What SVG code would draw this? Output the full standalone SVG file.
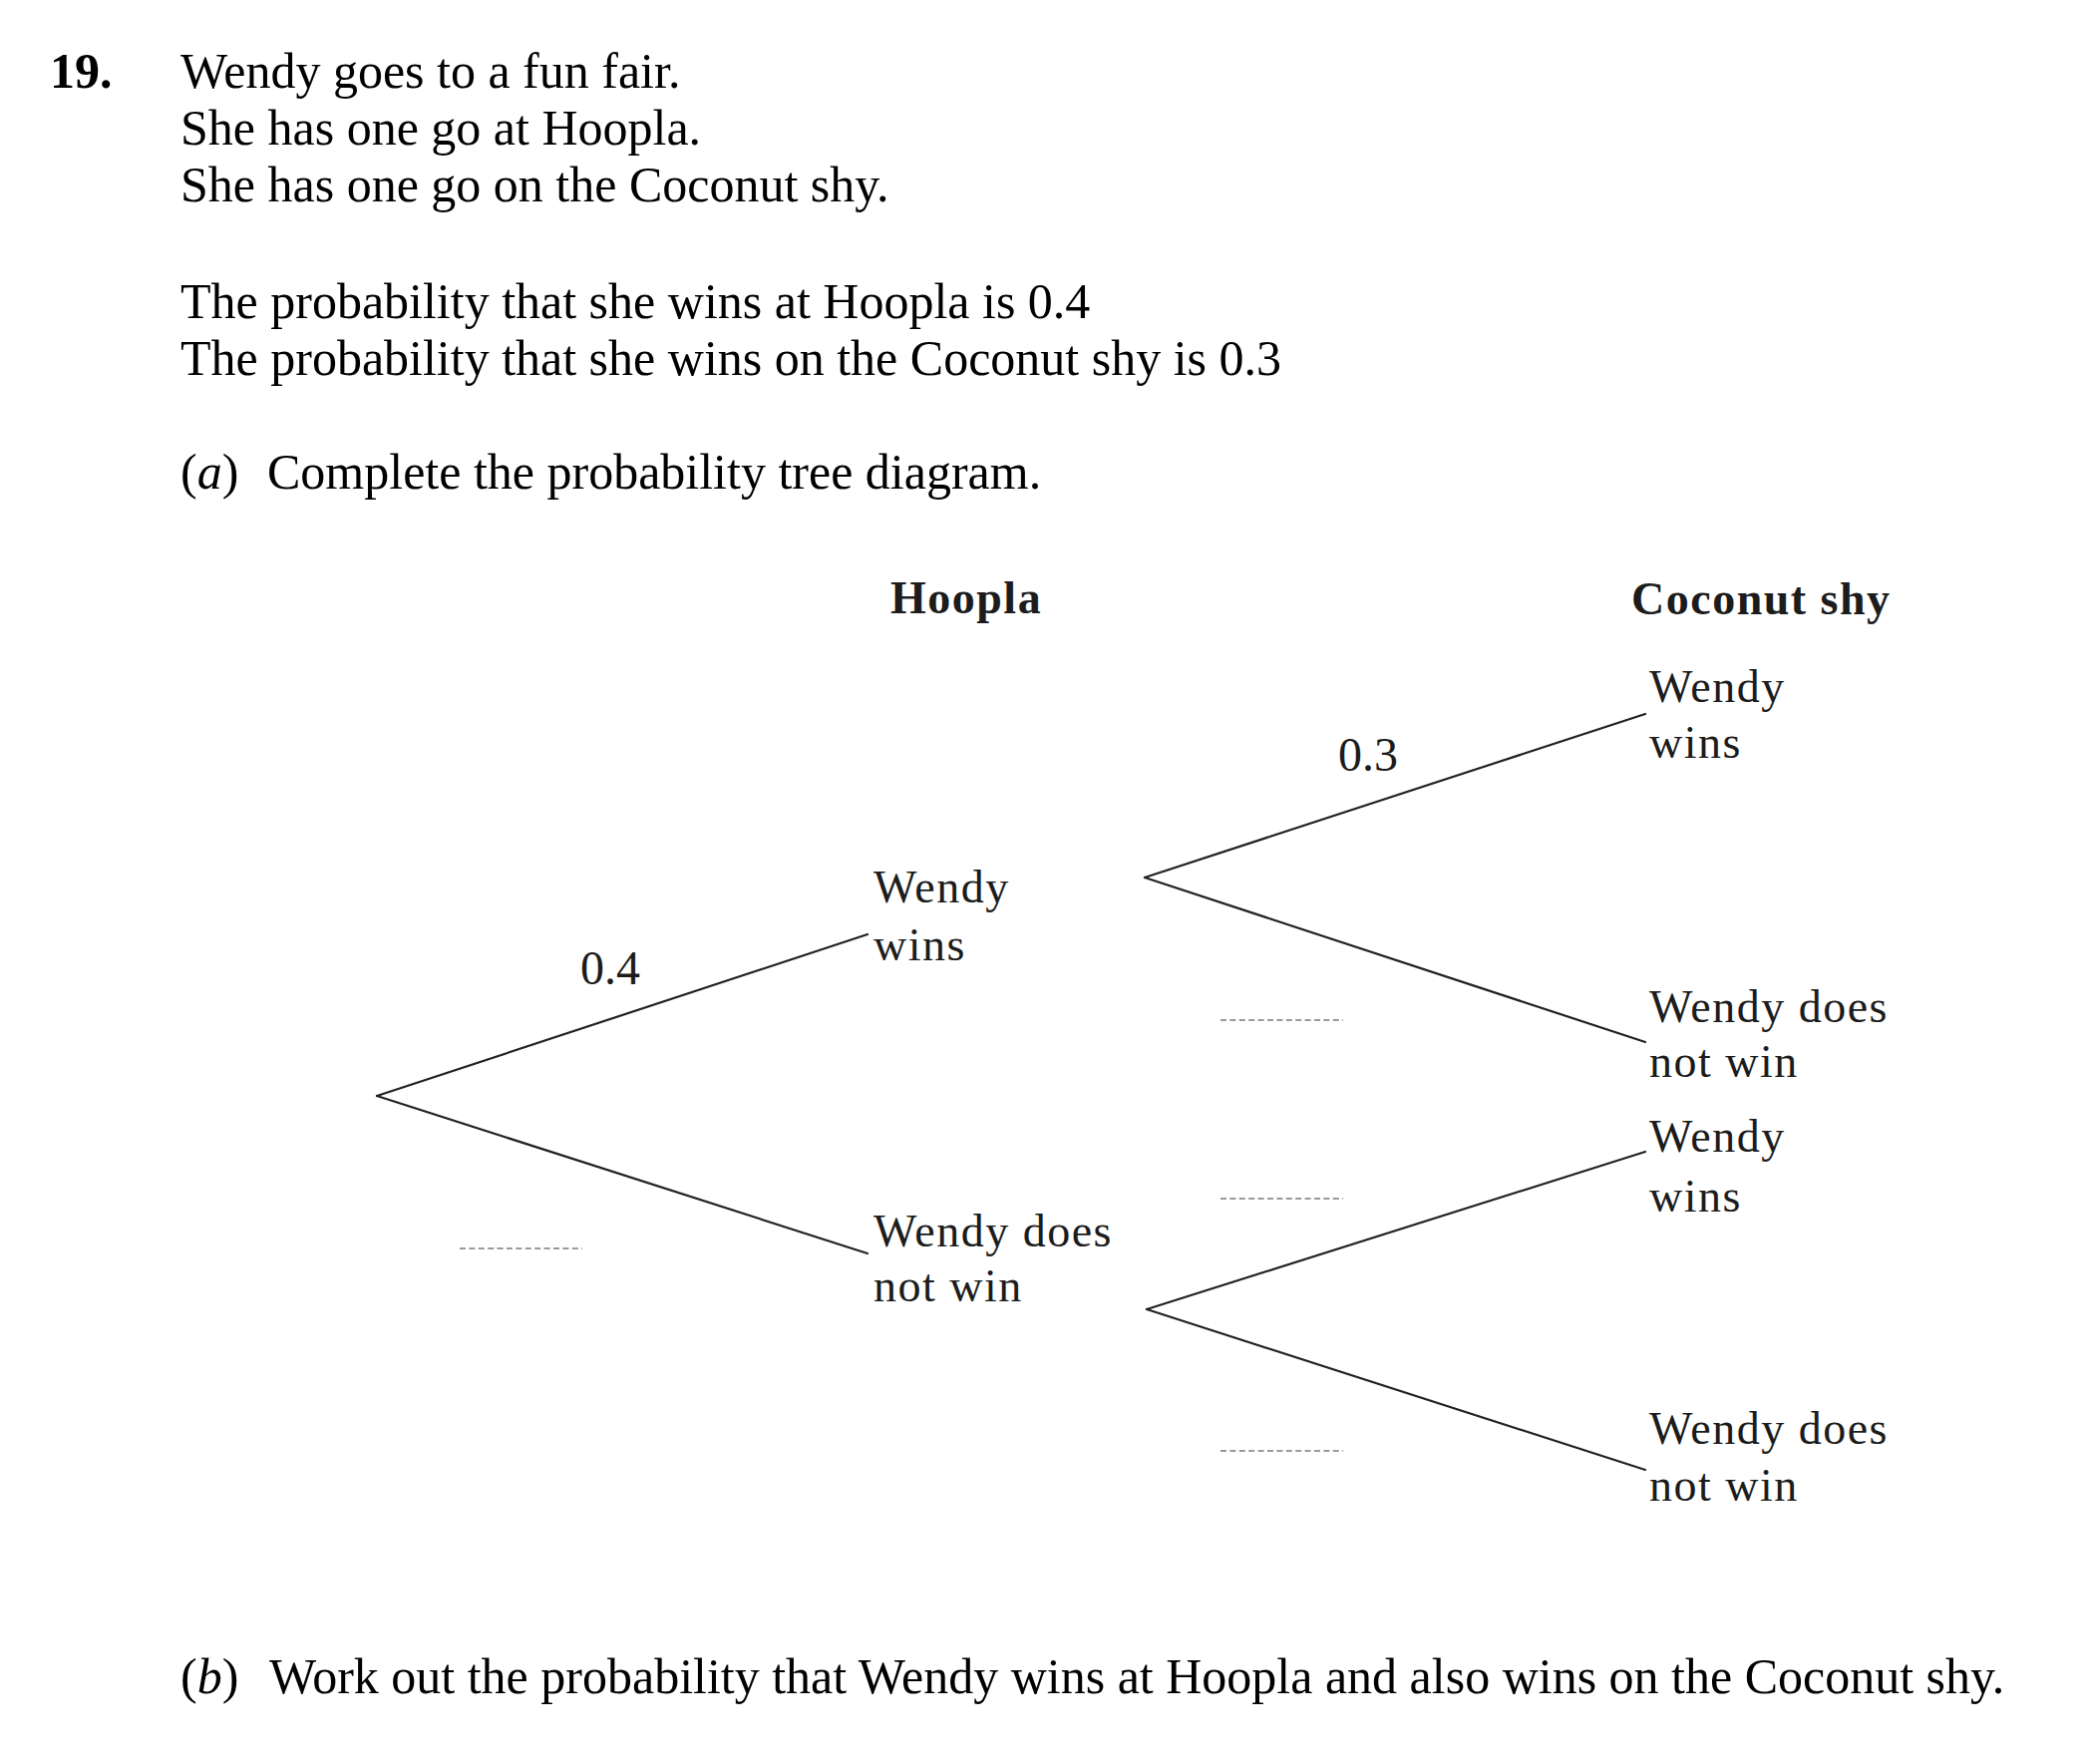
<svg xmlns="http://www.w3.org/2000/svg" width="2089" height="1769" viewBox="0 0 2089 1769">
<style>
.body{font-family:"Liberation Serif","Times New Roman",serif;font-size:50px;fill:#000}
.bold{font-weight:bold}
.it{font-style:italic}
.lbl{font-family:"Liberation Serif","Times New Roman",serif;font-size:46px;fill:#1c1c1c;letter-spacing:1.5px}
.hdr{font-family:"Liberation Serif","Times New Roman",serif;font-size:46px;font-weight:bold;fill:#1c1c1c;letter-spacing:1.5px}
.prob{font-family:"Liberation Serif","Times New Roman",serif;font-size:48px;fill:#1c1c1c}
.branch{stroke:#222;stroke-width:2.2;fill:none;stroke-linecap:round}
.blank{stroke:#9a9a9a;stroke-width:2;stroke-dasharray:6 3.4;fill:none}
</style>
<rect width="2089" height="1769" fill="#fff"/>
<g id="question">
<text class="body bold" x="50" y="88">19.</text>
<text class="body" x="181" y="88">Wendy goes to a fun fair.</text>
<text class="body" x="181" y="145">She has one go at Hoopla.</text>
<text class="body" x="181" y="202">She has one go on the Coconut shy.</text>
<text class="body" x="181" y="319">The probability that she wins at Hoopla is 0.4</text>
<text class="body" x="181" y="376">The probability that she wins on the Coconut shy is 0.3</text>
<text class="body" x="181" y="490">(<tspan class="it">a</tspan>)</text>
<text class="body" x="268" y="490">Complete the probability tree diagram.</text>
<text class="body" x="181" y="1698">(<tspan class="it">b</tspan>)</text>
<text class="body" x="270" y="1698">Work out the probability that Wendy wins at Hoopla and also wins on the Coconut shy.</text>
</g>
<g id="headers">
<text class="hdr" x="893" y="615">Hoopla</text>
<text class="hdr" x="1636" y="616">Coconut shy</text>
</g>
<g id="connectors">
<line class="branch" x1="378" y1="1099" x2="870" y2="937"/>
<line class="branch" x1="378" y1="1099" x2="870" y2="1257"/>
<line class="branch" x1="1148" y1="880" x2="1650" y2="716"/>
<line class="branch" x1="1148" y1="880" x2="1650" y2="1045"/>
<line class="branch" x1="1150" y1="1313" x2="1650" y2="1155"/>
<line class="branch" x1="1150" y1="1313" x2="1650" y2="1474"/>
</g>
<g id="edge-labels">
<text class="prob" x="582" y="987">0.4</text>
<text class="prob" x="1342" y="773">0.3</text>
<line class="blank" x1="461" y1="1252" x2="584" y2="1252"/>
<line class="blank" x1="1224" y1="1023" x2="1347" y2="1023"/>
<line class="blank" x1="1224" y1="1202" x2="1347" y2="1202"/>
<line class="blank" x1="1224" y1="1455" x2="1347" y2="1455"/>
</g>
<g id="node-hoopla-win">
<text class="lbl" x="876" y="905">Wendy</text>
<text class="lbl" x="876" y="963">wins</text>
</g>
<g id="node-hoopla-lose">
<text class="lbl" x="876" y="1250">Wendy does</text>
<text class="lbl" x="876" y="1305">not win</text>
</g>
<g id="node-ww">
<text class="lbl" x="1654" y="704">Wendy</text>
<text class="lbl" x="1654" y="760">wins</text>
</g>
<g id="node-wl">
<text class="lbl" x="1654" y="1025">Wendy does</text>
<text class="lbl" x="1654" y="1080">not win</text>
</g>
<g id="node-lw">
<text class="lbl" x="1654" y="1155">Wendy</text>
<text class="lbl" x="1654" y="1215">wins</text>
</g>
<g id="node-ll">
<text class="lbl" x="1654" y="1448">Wendy does</text>
<text class="lbl" x="1654" y="1505">not win</text>
</g>
</svg>
